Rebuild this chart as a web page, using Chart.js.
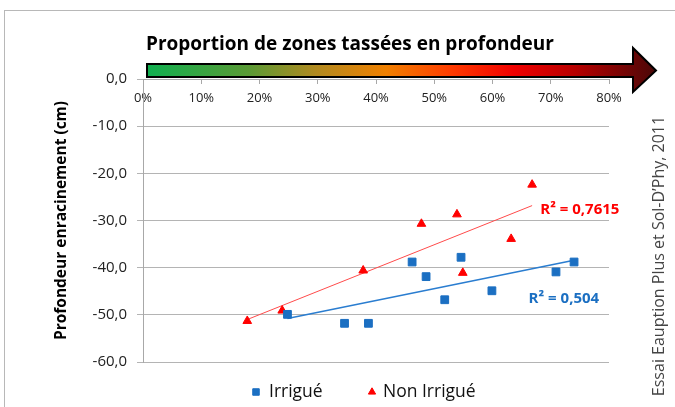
<!DOCTYPE html>
<html>
<head>
<meta charset="utf-8">
<script src="https://cdn.jsdelivr.net/npm/chart.js@4.4.1/dist/chart.umd.min.js"></script>
<style>
  html, body { margin: 0; padding: 0; background: #fff; overflow: hidden; }
  #wrap { position: relative; width: 675px; height: 407px; }
  #frame { position: absolute; left: 4px; top: 10px; width: 700px; height: 420px; border: 1px solid #b8b8b8; box-sizing: border-box; }
  canvas { position: absolute; left: 0; top: 0; }
</style>
</head>
<body>
<div id="wrap">
  <div id="frame"></div>
  <canvas id="chart" width="675" height="407"></canvas>
</div>
<script>
// % of compacted zones at depth vs. rooting depth (cm)
const irrigueX = [24.8, 34.6, 38.7, 46.2, 48.6, 51.8, 54.6, 59.9, 70.9, 74.0];
const irrigueY = [-49.9, -51.8, -51.8, -38.8, -41.9, -46.8, -37.8, -44.9, -40.9, -38.8];
const nonIrrigueX = [17.9, 23.9, 37.8, 47.8, 53.9, 54.9, 63.2, 66.8];
const nonIrrigueY = [-51.3, -49.1, -40.6, -30.7, -28.7, -41.1, -33.9, -22.4];
const xTicks = [0, 10, 20, 30, 40, 50, 60, 70, 80];
const yTicks = [0, -10, -20, -30, -40, -50, -60];
const r2Irrigue = '0,504';
const r2NonIrrigue = '0,7615';

const BLUE = '#1b6fc2';
const RED = '#ff0000';

function pts(xs, ys) {
    return xs.map((x, i) => ({ x: x, y: ys[i] }));
}

// least squares trend line between min and max x
function trend(xs, ys) {
    const n = xs.length;
    const mx = xs.reduce((a, b) => a + b, 0) / n;
    const my = ys.reduce((a, b) => a + b, 0) / n;
    let sxy = 0, sxx = 0;
    for (let i = 0; i < n; i++) {
        sxy += (xs[i] - mx) * (ys[i] - my);
        sxx += (xs[i] - mx) * (xs[i] - mx);
    }
    const b = sxy / sxx;
    const x0 = Math.min(...xs), x1 = Math.max(...xs);
    return [{ x: x0, y: my + b * (x0 - mx) }, { x: x1, y: my + b * (x1 - mx) }];
}

const decor = {
    id: 'decor',
    afterDraw(chart) {
        const ctx = chart.ctx;
        ctx.save();

        // title
        ctx.fillStyle = '#000';
        ctx.font = 'bold 19px "Open Sans"';
        ctx.textAlign = 'left';
        ctx.textBaseline = 'alphabetic';
        ctx.fillText('Proportion de zones tassées en profondeur', 146, 50);

        // gradient arrow
        const x0 = 147, x1 = 633, tip = 656, top = 64, bot = 77, hTop = 48, hBot = 92;
        const g = ctx.createLinearGradient(x0, 0, tip, 0);
        g.addColorStop(0, '#10b050');
        g.addColorStop(0.2, '#5a9a35');
        g.addColorStop(0.33, '#b08a20');
        g.addColorStop(0.47, '#f08000');
        g.addColorStop(0.6, '#ff3a00');
        g.addColorStop(0.72, '#f00000');
        g.addColorStop(0.84, '#b80000');
        g.addColorStop(1, '#4a0808');
        ctx.beginPath();
        ctx.moveTo(x0, top);
        ctx.lineTo(x1, top);
        ctx.lineTo(x1, hTop);
        ctx.lineTo(tip, (top + bot) / 2);
        ctx.lineTo(x1, hBot);
        ctx.lineTo(x1, bot);
        ctx.lineTo(x0, bot);
        ctx.closePath();
        ctx.fillStyle = g;
        ctx.fill();
        ctx.lineWidth = 2;
        ctx.strokeStyle = '#000';
        ctx.stroke();

        // R² labels
        const xs = chart.scales.x, ys = chart.scales.y;
        ctx.font = 'bold 15px "Open Sans"';
        ctx.textBaseline = 'middle';
        ctx.fillStyle = RED;
        ctx.fillText('R² = ' + r2NonIrrigue, xs.getPixelForValue(68.2), ys.getPixelForValue(-27.8));
        ctx.fillStyle = BLUE;
        ctx.fillText('R² = ' + r2Irrigue, xs.getPixelForValue(66.2), ys.getPixelForValue(-46.6));

        // legend, using the datasets' own point styles
        ctx.font = '17.5px "Open Sans"';
        const items = [[0, 256, 269], [1, 372, 383]];
        items.forEach(([i, mx, tx]) => {
            const ds = chart.data.datasets[i];
            ctx.fillStyle = ds.backgroundColor;
            ctx.strokeStyle = ds.borderColor;
            ctx.lineWidth = 1;
            Chart.helpers.drawPoint(ctx, { pointStyle: ds.pointStyle, radius: i === 0 ? 4.6 : 4.2, borderWidth: 1 }, mx, 392);
            ctx.fillStyle = '#111';
            ctx.fillText(ds.label, tx, 392);
        });

        // source, rotated
        ctx.translate(659, 256);
        ctx.rotate(-Math.PI / 2);
        ctx.textAlign = 'center';
        ctx.font = '16px "Open Sans"';
        ctx.fillStyle = '#444';
        ctx.fillText('Essai Eauption Plus et Sol-D’Phy, 2011', 0, 0);
        ctx.restore();
    }
};

new Chart(document.getElementById('chart'), {
    type: 'scatter',
    data: {
        datasets: [
            {
                label: 'Irrigué',
                data: pts(irrigueX, irrigueY),
                pointStyle: 'rect',
                pointRadius: 5.5,
                backgroundColor: BLUE,
                borderColor: BLUE,
                borderWidth: 1
            },
            {
                label: 'Non Irrigué',
                data: pts(nonIrrigueX, nonIrrigueY),
                pointStyle: 'triangle',
                pointRadius: 5,
                backgroundColor: RED,
                borderColor: RED,
                borderWidth: 1
            },
            {
                label: 'trend irr',
                type: 'line',
                data: trend(irrigueX, irrigueY),
                borderColor: '#2a7dd0',
                borderWidth: 1.5,
                pointRadius: 0,
                fill: false
            },
            {
                label: 'trend non irr',
                type: 'line',
                data: trend(nonIrrigueX, nonIrrigueY),
                borderColor: '#ff4a4a',
                borderWidth: 1,
                pointRadius: 0,
                fill: false
            }
        ]
    },
    options: {
        responsive: false,
        animation: false,
        layout: { padding: { left: 48, right: 66, top: 79, bottom: 45 } },
        scales: {
            x: {
                type: 'linear',
                position: { y: 0 },
                min: 0,
                max: 80,
                afterBuildTicks: (s) => { s.ticks = xTicks.map(v => ({ value: v })); },
                ticks: {
                    color: '#222',
                    font: { family: 'Open Sans', size: 13 },
                    padding: 7,
                    callback: (v) => v + '%'
                },
                grid: { drawOnChartArea: false, drawTicks: true, tickLength: 4, color: '#a8a8a8' },
                border: { color: '#a8a8a8' }
            },
            y: {
                position: 'left',
                min: -60,
                max: 0,
                afterBuildTicks: (s) => { s.ticks = yTicks.map(v => ({ value: v })); },
                afterFit: (s) => { s.width = 95; },
                ticks: {
                    color: '#222',
                    font: { family: 'Open Sans', size: 15 },
                    padding: 10,
                    callback: (v) => v.toFixed(1).replace('.', ',')
                },
                grid: { color: '#b4b4b4', tickLength: 6 },
                border: { color: '#a8a8a8' },
                title: {
                    display: true,
                    text: 'Profondeur enracinement (cm)',
                    color: '#000',
                    font: { family: 'Open Sans', size: 15.5, weight: 'bold' },
                    padding: { top: 4, bottom: 4 }
                }
            }
        },
        plugins: {
            legend: { display: false },
            tooltip: { enabled: false }
        }
    },
    plugins: [decor]
});
</script>
</body>
</html>
